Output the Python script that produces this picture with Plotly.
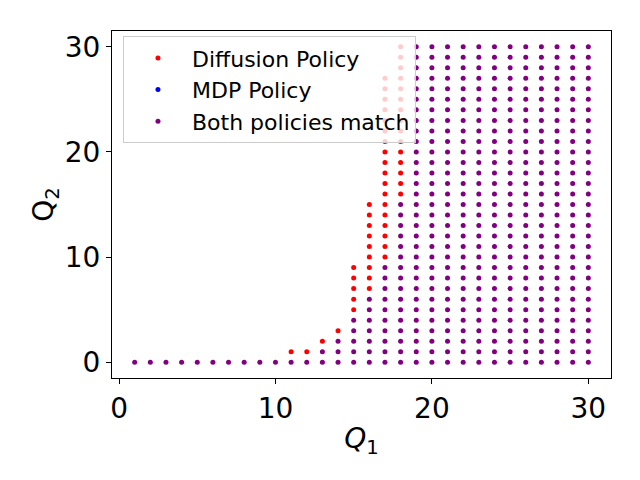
import plotly.graph_objects as go

# Grid of states: for every Q1 column, the highest Q2
# where both policies agree, and the Q2 range where only the diffusion policy acts.
Q1_VALUES = list(range(1, 31))
MATCH_TOP = [0, 0, 0, 0, 0, 0, 0, 0, 0, 0,
             0, 0, 1, 2, 4, 6, 9, 15, 30, 30,
             30, 30, 30, 30, 30, 30, 30, 30, 30, 30]
DIFF_LOW = [None] * 10 + [1, 1, 2, 3, 5, 7, 10, 16] + [None] * 12
DIFF_TOP = [None] * 10 + [1, 1, 2, 3, 9, 15, 27, 30] + [None] * 12

SERIES_NAMES = ["Diffusion Policy", "MDP Policy", "Both policies match"]
SERIES_COLORS = ["red", "blue", "purple"]
TICKS = [0, 10, 20, 30]

diff_x, diff_y, both_x, both_y = [], [], [], []
for q1, top, lo, hi in zip(Q1_VALUES, MATCH_TOP, DIFF_LOW, DIFF_TOP):
    for q2 in range(0, top + 1):
        both_x.append(q1)
        both_y.append(q2)
    if lo is not None:
        for q2 in range(lo, hi + 1):
            diff_x.append(q1)
            diff_y.append(q2)

fig = go.Figure()
marker_size = 5
fig.add_trace(go.Scatter(x=diff_x, y=diff_y, mode="markers", name=SERIES_NAMES[0],
                         marker=dict(color=SERIES_COLORS[0], size=marker_size)))
fig.add_trace(go.Scatter(x=[None], y=[None], mode="markers", name=SERIES_NAMES[1],
                         marker=dict(color=SERIES_COLORS[1], size=marker_size)))
fig.add_trace(go.Scatter(x=both_x, y=both_y, mode="markers", name=SERIES_NAMES[2],
                         marker=dict(color=SERIES_COLORS[2], size=marker_size)))

axis_common = dict(
    showgrid=False, zeroline=False, showline=True, mirror=True,
    linecolor="black", linewidth=1.1, ticks="outside", ticklen=5,
    tickwidth=1.1, tickcolor="black", tickvals=TICKS, automargin=False,
    tickfont=dict(family="DejaVu Sans", size=28, color="black"),
)
fig.update_xaxes(range=[-0.45, 31.45],
                 title=dict(text="<i>Q</i><sub>1</sub>", standoff=4,
                            font=dict(family="DejaVu Sans", size=28, color="black")),
                 **axis_common)
fig.update_yaxes(range=[-1.5, 31.5],
                 title=dict(text="Q<sub>2</sub>", standoff=2,
                            font=dict(family="DejaVu Sans", size=28, color="black")),
                 **axis_common)

# page body adds an 8px offset, so margins are shifted to compensate
fig.update_layout(
    width=640, height=480,
    margin=dict(l=104, r=37, t=23, b=110),
    plot_bgcolor="white", paper_bgcolor="white",
    legend=dict(x=0.022, y=0.985, xanchor="left", yanchor="top",
                bgcolor="rgba(255,255,255,0.8)", bordercolor="#cccccc", borderwidth=1,
                font=dict(family="DejaVu Sans", size=22, color="black"),
                itemwidth=58, tracegroupgap=0),
)

fig.write_html("out.html")
